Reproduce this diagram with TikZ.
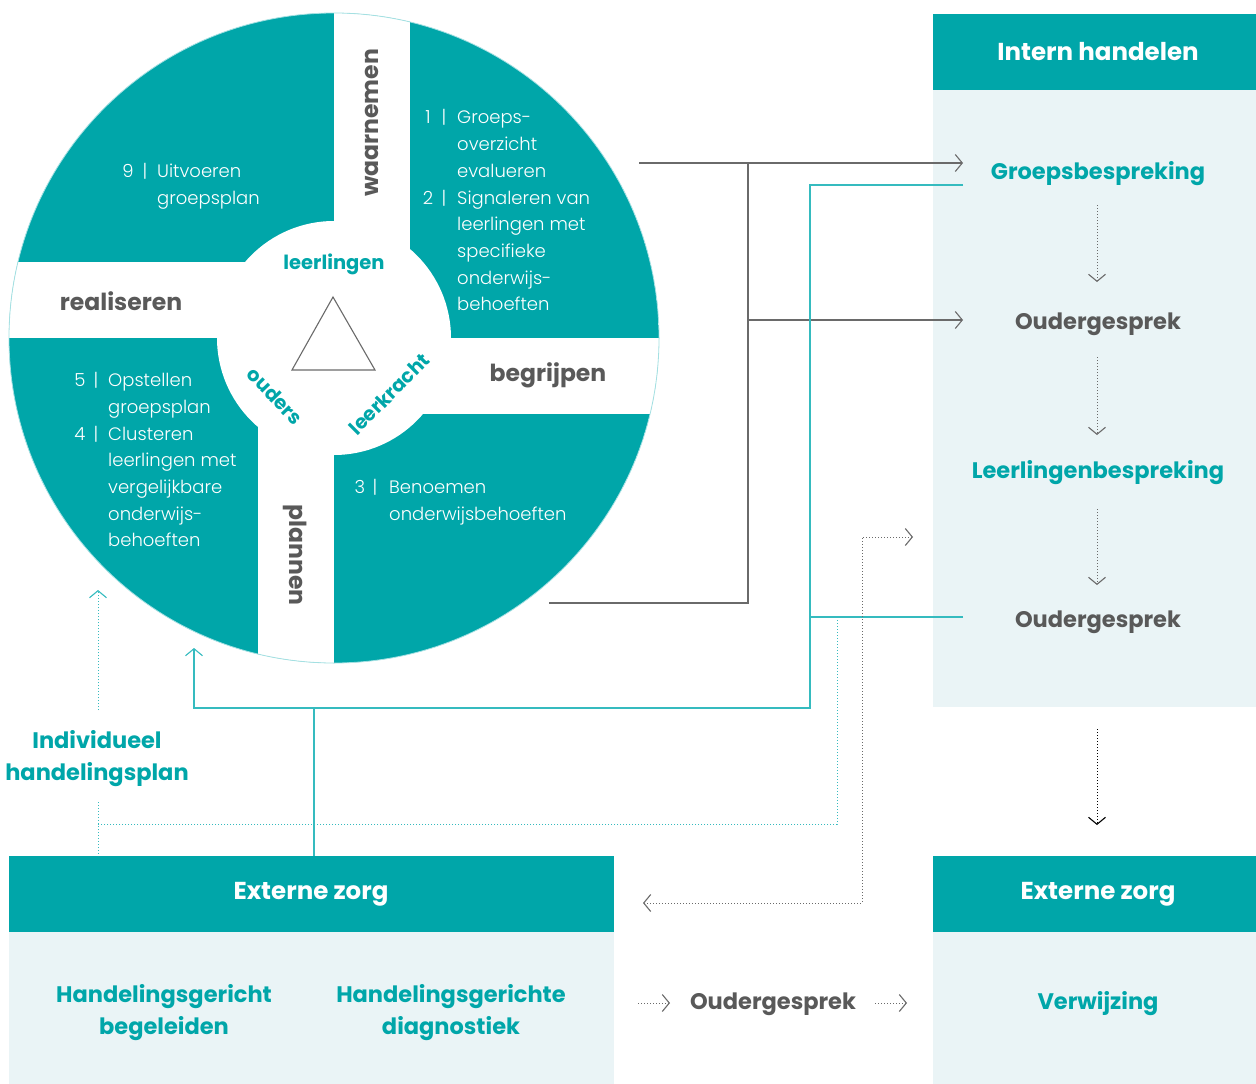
\documentclass[tikz,border=0pt]{standalone}
\usepackage{fontspec}
\setmainfont{Poppins}
\IfFontExistsTF{Poppins Light}{\newfontfamily\lightfont{Poppins Light}}{\newfontfamily\lightfont{Poppins}}
\usetikzlibrary{arrows.meta}
\definecolor{tealfill}{HTML}{00A6A9}
\definecolor{tealline}{HTML}{35BBBF}
\definecolor{lightbg}{HTML}{EAF4F6}
\definecolor{greytxt}{HTML}{595959}
\definecolor{greyline}{HTML}{6A6A6A}
\begin{document}
\begin{tikzpicture}[x=1pt,y=-1pt,
  chev/.style={-{Straight Barb[length=7pt,width=17pt,line width=1.1pt]}},
  chevb/.style={{Straight Barb[length=7pt,width=17pt,line width=1.1pt]}-{Straight Barb[length=7pt,width=17pt,line width=1.1pt]}},
  gline/.style={draw=greyline,line width=1.4pt},
  tline/.style={draw=tealline,line width=1.6pt},
  dots/.style={dash pattern=on 1pt off 2pt,line width=1pt},
  cyc/.style={font=\lightfont\fontsize{18}{22}\selectfont,text=white,inner sep=0pt,anchor=mid west},
  cnum/.style={font=\lightfont\fontsize{18}{22}\selectfont,text=white,inner sep=0pt,anchor=mid},
  phase/.style={font=\fontsize{23.5}{28}\selectfont\bfseries,text=greytxt,inner sep=0pt},
  hub/.style={font=\fontsize{19.5}{24}\selectfont\bfseries,text=tealfill,inner sep=0pt},
  headtxt/.style={font=\fontsize{24.5}{29}\selectfont\bfseries,text=white,inner sep=0pt},
  tealtxt/.style={font=\fontsize{22.5}{32}\selectfont\bfseries,text=tealfill,inner sep=0pt,align=center},
  greybold/.style={font=\fontsize{22.5}{27}\selectfont\bfseries,text=greytxt,inner sep=0pt}]
\useasboundingbox (0,0) rectangle (1256,1084);
\fill[white] (0,0) rectangle (1256,1084);

% ---------- panels ----------
\fill[lightbg] (933,90) rectangle (1256,707);
\fill[tealfill] (933,14) rectangle (1256,90);
\fill[tealfill] (9,856) rectangle (614,932);
\fill[lightbg] (9,932) rectangle (614,1084);
\fill[tealfill] (933,856) rectangle (1256,932);
\fill[lightbg] (933,932) rectangle (1256,1084);

% ---------- wheel ----------
\coordinate (wc) at (334,338);
\begin{scope}
  \clip (wc) circle (325pt);
  \fill[tealfill] (wc) circle (325pt);
  \fill[white] (334,0) rectangle (410,338);
  \fill[white] (0,262) rectangle (334,338);
  \fill[white] (334,338) rectangle (680,414);
  \fill[white] (258,338) rectangle (334,680);
  \fill[white] (wc) circle (117pt);
\end{scope}
\draw[tealline!45,line width=0.8pt] (wc) circle (325pt);
\draw[greyline,line width=1.1pt,line join=miter] (333,297) -- (292,370) -- (375,370) -- cycle;

\node[phase,rotate=90] (waar) at (372,123) {waarnemen};
\node[phase,rotate=-90] (plan) at (295,555) {plannen};
\node[phase] (real) at (121,301) {realiseren};
\node[phase] (begr) at (548,375) {begrijpen};
\node[hub] (leer) at (334,264) {leerlingen};
\node[hub,rotate=-46] (oud) at (275,396) {ouders};
\node[hub,rotate=45] (lkr) at (389,394) {leerkracht};

% TR quadrant
\begin{scope}[yshift=-5pt]
\node[cnum] (n1) at (428,116) {1};
\node[cnum] (b1) at (444,116) {|};
\node[cyc] (t1a) at (457,116) {Groeps-};
\node[cyc] (t1b) at (457,143) {overzicht};
\node[cyc] (t1c) at (457,170) {evalueren};
\node[cnum] (n2) at (428,197) {2};
\node[cnum] (b2) at (444,197) {|};
\node[cyc] (t2a) at (457,197) {Signaleren van};
\node[cyc] (t2b) at (457,223) {leerlingen met};
\node[cyc] (t2c) at (457,250) {specifieke};
\node[cyc] (t2d) at (457,277) {onderwijs-};
\node[cyc] (t2e) at (457,303) {behoeften};
% TL quadrant
\node[cnum] (n9) at (128,170) {9};
\node[cnum] (b9) at (145,170) {|};
\node[cyc] (t9a) at (157,170) {Uitvoeren};
\node[cyc] (t9b) at (157,197) {groepsplan};
% BL quadrant
\node[cnum] (n5) at (80,379) {5};
\node[cnum] (b5) at (96,379) {|};
\node[cyc] (t5a) at (108,379) {Opstellen};
\node[cyc] (t5b) at (108,406) {groepsplan};
\node[cnum] (n4) at (80,433) {4};
\node[cnum] (b4) at (96,433) {|};
\node[cyc] (t4a) at (108,433) {Clusteren};
\node[cyc] (t4b) at (108,459) {leerlingen met};
\node[cyc] (t4c) at (108,486) {vergelijkbare};
\node[cyc] (t4d) at (108,513) {onderwijs-};
\node[cyc] (t4e) at (108,539) {behoeften};
% BR quadrant
\node[cnum] (n3) at (360,486) {3};
\node[cnum] (b3) at (375,486) {|};
\node[cyc] (t3a) at (389,486) {Benoemen};
\node[cyc] (t3b) at (389,513) {onderwijsbehoeften};
\end{scope}

% ---------- right column ----------
\node[headtxt] (intern) at (1098,52) {Intern handelen};
\node[tealtxt] (gb) at (1098,174) {Groepsbespreking};
\node[greybold] (og1) at (1098,324) {Oudergesprek};
\node[tealtxt] (lb) at (1098,473) {Leerlingenbespreking};
\node[greybold] (og2) at (1098,622) {Oudergesprek};

\coordinate (d1s) at (1097,205); \coordinate (d1e) at (1097,282);
\coordinate (d2s) at (1097,357); \coordinate (d2e) at (1097,435);
\coordinate (d3s) at (1097,509); \coordinate (d3e) at (1097,585);
\coordinate (d4s) at (1097,729); \coordinate (d4e) at (1097,825);
\draw[greyline,dots,chev] (d1s) -- (d1e);
\draw[greyline,dots,chev] (d2s) -- (d2e);
\draw[greyline,dots,chev] (d3s) -- (d3e);
\draw[black,dots,chev] (d4s) -- (d4e);

% ---------- bottom ----------
\node[headtxt] (ext1) at (311,894) {Externe zorg};
\node[headtxt] (ext2) at (1098,894) {Externe zorg};
\node[tealtxt] (hgb) at (164,1013) {Handelingsgericht\\begeleiden};
\node[tealtxt] (hgd) at (451,1013) {Handelingsgerichte\\diagnostiek};
\node[greybold] (og3) at (773,1004) {Oudergesprek};
\node[tealtxt] (verw) at (1098,1004) {Verwijzing};
\node[tealtxt] (ihp) at (97,759) {Individueel\\handelingsplan};

\coordinate (b1s) at (638,1003); \coordinate (b1e) at (670,1003);
\coordinate (b2s) at (875,1003); \coordinate (b2e) at (907,1003);
\draw[greyline,dots,chev] (b1s) -- (b1e);
\draw[greyline,dots,chev] (b2s) -- (b2e);

% ---------- grey connectors ----------
\coordinate (trOut) at (639,163);
\coordinate (brOut) at (549,603);
\coordinate (gbIn) at (963,163);
\coordinate (og1In) at (963,320);
\coordinate (junc) at (748,163);
\draw[gline,chev] (trOut) -- (gbIn);
\draw[gline] (junc) -- (748,603) -- (brOut);
\draw[gline,chev] (748,320) -- (og1In);

% ---------- teal connectors ----------
\coordinate (gbOut) at (963,185);
\coordinate (og2Out) at (963,617);
\coordinate (wheelIn) at (194,648);
\coordinate (extTop) at (314,856);
\draw[tline,chev] (gbOut) -- (810,185) -- (810,708) -- (194,708) -- (wheelIn);
\draw[tline] (og2Out) -- (810,617);
\draw[tline] (314,708) -- (extTop);

% ---------- dotted connectors ----------
\coordinate (ihpTop) at (98,710);
\coordinate (ihpArr) at (98,590);
\draw[tealline,dots,chev] (ihpTop) -- (ihpArr);
\coordinate (ihpBot) at (98,802);
\coordinate (extTop2) at (98,856);
\draw[tealline,dots] (ihpBot) -- (extTop2);
\draw[tealline,dots] (837,617) -- (837,824) -- (98,824);
\coordinate (lbArr) at (913,537);
\coordinate (extArr) at (643,903);
\draw[greyline,dots,chevb] (lbArr) -- (862,537) -- (862,903) -- (extArr);
\end{tikzpicture}
\end{document}
